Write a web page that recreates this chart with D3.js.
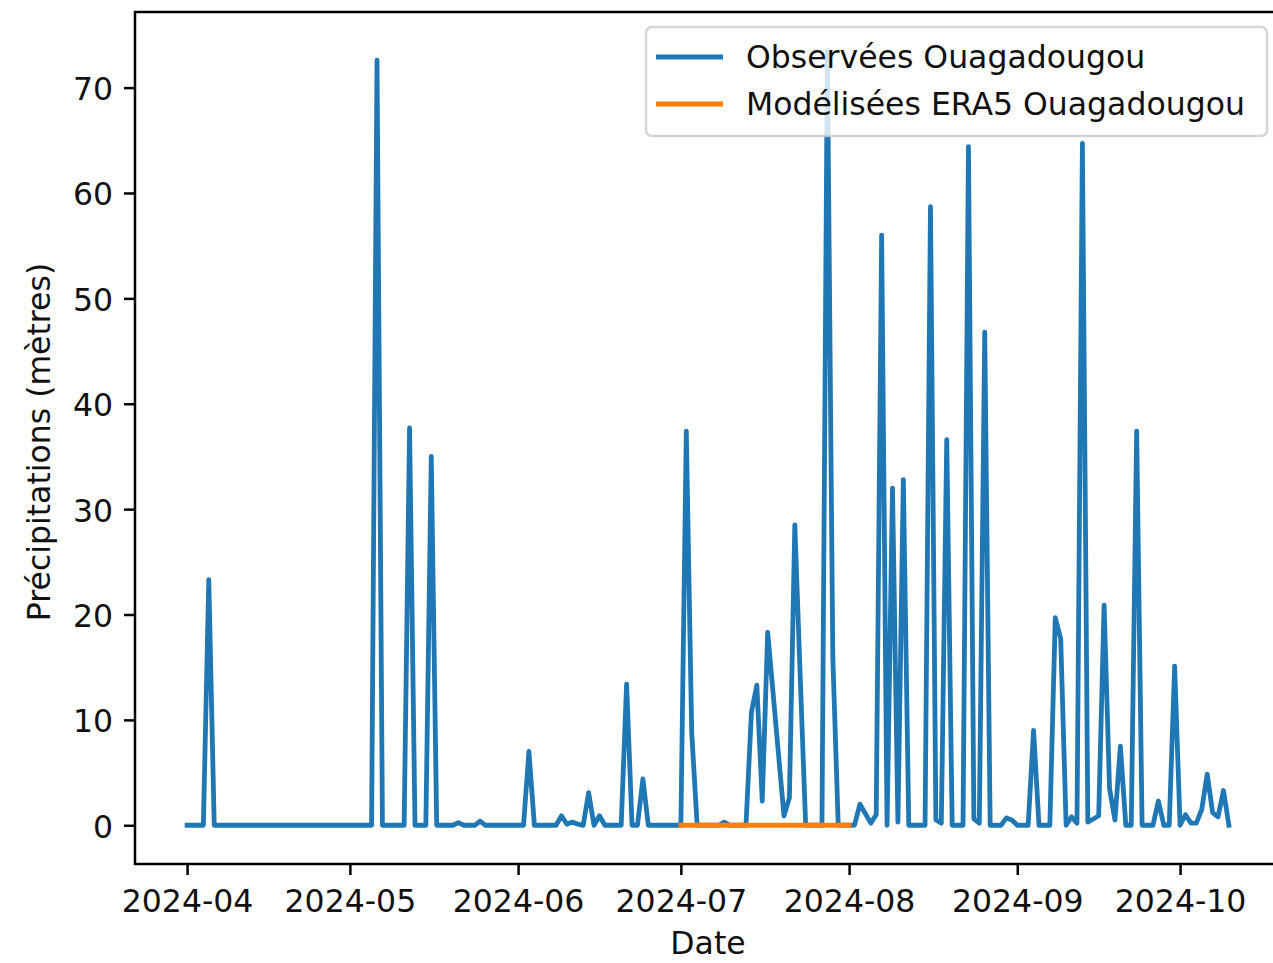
<!DOCTYPE html>
<html>
<head>
<meta charset="utf-8">
<script src="https://cdn.jsdelivr.net/npm/d3@7"></script>
<style>
  body { margin: 0; background: #ffffff; }
  svg text { font-family: "DejaVu Sans", sans-serif; }
</style>
</head>
<body>
<svg id="chart" width="1273" height="963"></svg>
<script>
// ---------------- DATA ----------------
const observedStart = "2024-04-01";   // one value per day
const observedOuaga = [
  0, 0, 0, 0, 23.3, 0, 0, 0, 0, 0,            // Apr 1-10
  0, 0, 0, 0, 0, 0, 0, 0, 0, 0,
  0, 0, 0, 0, 0, 0, 0, 0, 0, 0,
  0, 0, 0, 0, 0, 72.6, 0, 0, 0, 0,            // May 1-
  0, 37.7, 0, 0, 0, 35.0, 0, 0, 0, 0,
  0.25, 0, 0, 0, 0.4, 0, 0, 0, 0, 0,
  0, 0, 0, 7.0, 0, 0, 0, 0, 0, 0.9,           // Jun 1-
  0.1, 0.3, 0.1, 0, 3.1, 0, 0.9, 0, 0, 0,
  0, 13.4, 0, 0, 4.4, 0, 0, 0, 0, 0,
  0, 0, 37.4, 8.8, 0, 0, 0, 0, 0, 0.3,        // Jul 1 = index 91
  0, 0, 0, 0, 10.7, 13.3, 2.3, 18.3, 12.5, 6.7,
  0.9, 2.6, 28.5, 14.0, 0, 0, 0, 0, 73.5, 16.0,
  0, 0, 0, 0, 2.0, 1.1, 0.2, 1.0, 56.0, 0,    // Aug 1 = index 122
  32.0, 0.3, 32.8, 0, 0, 0, 0, 58.7, 0.5, 0.2,
  36.6, 0, 0, 0, 64.4, 0.6, 0.2, 46.8, 0, 0,
  0, 0.7, 0.5, 0, 0, 0, 9.0, 0, 0, 0,         // Sep 1 = index 153
  19.7, 17.7, 0, 0.8, 0.2, 64.7, 0.3, 0.6, 0.9, 20.9,
  3.5, 0.5, 7.5, 0, 0, 37.4, 0, 0, 0, 2.3,
  0, 0, 15.1, 0, 1.0, 0.2, 0.2, 1.5, 4.85, 1.2, // Oct 1 = index 183
  0.8, 3.3, 0
];

const era5Start = "2024-07-01";
const era5Ouaga = [
  0, 0, 0, 0, 0, 0, 0, 0, 0, 0,
  0, 0, 0, 0, 0, 0, 0, 0, 0, 0,
  0, 0, 0, 0, 0, 0, 0, 0, 0, 0,
  0, 0
];

const seriesNames = ["Observées Ouagadougou", "Modélisées ERA5 Ouagadougou"];
const seriesColors = ["#1f77b4", "#ff7f0e"];
const yTickValues = [0, 10, 20, 30, 40, 50, 60, 70];
const xTickLabels = ["2024-04", "2024-05", "2024-06", "2024-07", "2024-08", "2024-09", "2024-10"];
const xLabelText = "Date";
const yLabelText = "Précipitations (mètres)";

// ---------------- LAYOUT ----------------
const FS = 31.5;
const plot = { left: 135, right: 1281, top: 12, bottom: 864 };
const LW = 4.8, SPINE = 2.5, TICK = 11;

const svg = d3.select("#chart");
svg.append("rect").attr("width", 1273).attr("height", 963).attr("fill", "#fff");

const parseDay = d3.utcParse("%Y-%m-%d");
const parseMonth = d3.utcParse("%Y-%m");

function toSeries(start, values) {
  const s = parseDay(start);
  return values.map((v, i) => ({ date: d3.utcDay.offset(s, i), v }));
}
const obs = toSeries(observedStart, observedOuaga);
const era = toSeries(era5Start, era5Ouaga);

// matplotlib-like 5% margins
const allDates = obs.concat(era).map(d => d.date);
const [dMin, dMax] = d3.extent(allDates);
const span = dMax - dMin;
const x = d3.scaleUtc()
  .domain([new Date(+dMin - 0.05 * span), new Date(+dMax + 0.05 * span)])
  .range([plot.left, plot.right]);

const vMax = d3.max(obs.concat(era), d => d.v);
const vMin = Math.min(0, d3.min(obs.concat(era), d => d.v));
const vSpan = vMax - vMin;
const y = d3.scaleLinear()
  .domain([vMin - 0.05 * vSpan, vMax + 0.05 * vSpan])
  .range([plot.bottom, plot.top]);

// clip
svg.append("defs").append("clipPath").attr("id", "clip")
  .append("rect").attr("x", plot.left).attr("y", plot.top)
  .attr("width", plot.right - plot.left).attr("height", plot.bottom - plot.top);

const line = d3.line().x(d => x(d.date)).y(d => y(d.v));

const g = svg.append("g").attr("clip-path", "url(#clip)");
[obs, era].forEach((s, i) => {
  g.append("path").datum(s)
    .attr("d", line)
    .attr("fill", "none")
    .attr("stroke", seriesColors[i])
    .attr("stroke-width", LW)
    .attr("stroke-linejoin", "round")
    .attr("stroke-linecap", "square");
});

// axes
const xAxis = d3.axisBottom(x)
  .tickValues(xTickLabels.map(parseMonth))
  .tickFormat(d3.utcFormat("%Y-%m"))
  .tickSize(TICK).tickSizeOuter(0).tickPadding(15);
const gx = svg.append("g").attr("transform", `translate(0,${plot.bottom})`).call(xAxis);
gx.select(".domain").remove();
gx.selectAll(".tick line").attr("stroke", "#000").attr("stroke-width", SPINE);
gx.selectAll(".tick text").attr("font-size", FS).attr("fill", "#111")
  .attr("font-family", "DejaVu Sans");

const yAxis = d3.axisLeft(y)
  .tickValues(yTickValues)
  .tickFormat(d3.format("d"))
  .tickSize(TICK).tickSizeOuter(0).tickPadding(11);
const gy = svg.append("g").attr("transform", `translate(${plot.left},0)`).call(yAxis);
gy.select(".domain").remove();
gy.selectAll(".tick line").attr("stroke", "#000").attr("stroke-width", SPINE);
gy.selectAll(".tick text").attr("font-size", FS).attr("fill", "#111")
  .attr("dy", "0.38em").attr("font-family", "DejaVu Sans");

// frame (spines)
svg.append("rect")
  .attr("x", plot.left).attr("y", plot.top)
  .attr("width", plot.right - plot.left).attr("height", plot.bottom - plot.top)
  .attr("fill", "none").attr("stroke", "#000").attr("stroke-width", SPINE);

// axis labels
svg.append("text")
  .attr("x", (plot.left + plot.right) / 2).attr("y", 954)
  .attr("text-anchor", "middle").attr("font-size", FS).attr("fill", "#111")
  .text(xLabelText);

svg.append("text")
  .attr("transform", `translate(50,${(plot.top + plot.bottom) / 2 + 4}) rotate(-90)`)
  .attr("text-anchor", "middle").attr("font-size", FS).attr("fill", "#111")
  .text(yLabelText);

// legend (upper right)
const lg = svg.append("g");
const lgRight = plot.right - 14, lgTop = 27, lgW = 621, lgH = 109;
lg.append("rect")
  .attr("x", lgRight - lgW).attr("y", lgTop).attr("width", lgW).attr("height", lgH)
  .attr("rx", 6).attr("ry", 6)
  .attr("fill", "#fff").attr("fill-opacity", 0.8)
  .attr("stroke", "#cccccc").attr("stroke-opacity", 0.8).attr("stroke-width", 2.5);
seriesNames.forEach((name, i) => {
  const cy = lgTop + 30 + i * 47;
  const hx = lgRight - lgW + 10;
  lg.append("line")
    .attr("x1", hx).attr("x2", hx + 67).attr("y1", cy).attr("y2", cy)
    .attr("stroke", seriesColors[i]).attr("stroke-width", LW);
  lg.append("text")
    .attr("x", hx + 90).attr("y", cy + 11)
    .attr("font-size", FS).attr("fill", "#111")
    .text(name);
});
</script>
</body>
</html>
